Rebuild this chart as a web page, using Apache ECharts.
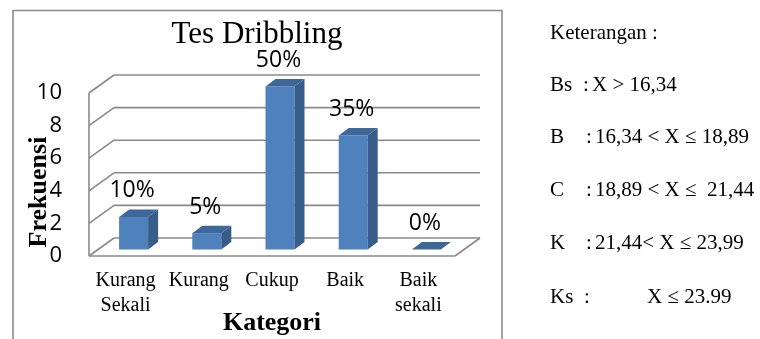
<!DOCTYPE html>
<html><head><meta charset="utf-8">
<script src="https://cdn.jsdelivr.net/npm/echarts@6/dist/echarts.min.js"></script>
<style>html,body{margin:0;padding:0;background:#fff}#c{width:760px;height:339px}</style>
</head><body><div id="c"></div>
<script>
const categories = ["Kurang\nSekali", "Kurang", "Cukup", "Baik", "Baik\nsekali"];
const frekuensi = [2, 1, 10, 7, 0];
const persen = ["10%", "5%", "50%", "35%", "0%"];
const yTicks = [0, 2, 4, 6, 8, 10];
const chartTitle = "Tes Dribbling";
const yName = "Frekuensi";
const xName = "Kategori";
const legendTitle = "Keterangan :";
const legendKeys = ["Bs", "B", "C", "K", "Ks"];
const legendExprs = ["X > 16,34", "16,34 < X \u2264 18,89", "18,89 < X \u2264  21,44", "21,44< X \u2264 23,99", "X \u2264 23.99"];

const SERIF = '"Liberation Serif", "Times New Roman", serif';
const SANS = '"Open Sans", "Liberation Sans", sans-serif';
const DX = 25, DY = -18;          // wall depth
const FX = 8, FY = -6.5;          // bar front face offset
const BX = 10, BY = -7.5;         // bar depth
const HW = 14.5;                  // bar half width
const GRID_COLOR = '#8a8a8a';

const chart = echarts.init(document.getElementById('c'), null, {renderer: 'canvas'});

function ln(x1, y1, x2, y2) {
  return {type: 'line', shape: {x1, y1, x2, y2}, style: {stroke: GRID_COLOR, lineWidth: 1.6}};
}

const LEG_FONT = '21px ' + SERIF;
const graphics = [
  {type: 'polyline', shape: {points: [[13, 339], [13, 10.5], [502, 10.5], [502, 339]]},
   style: {stroke: '#8c8c8c', lineWidth: 1.6, fill: null}},
  {type: 'text', x: 257, y: 35, style: {text: chartTitle, font: '31px ' + SERIF, fill: '#000', align: 'center', verticalAlign: 'middle'}},
  {type: 'text', x: 39, y: 192, rotation: Math.PI / 2,
   style: {text: yName, font: 'bold 26px ' + SERIF, fill: '#000', align: 'center', verticalAlign: 'middle'}},
  {type: 'text', x: 272, y: 323, style: {text: xName, font: 'bold 26px ' + SERIF, fill: '#000', align: 'center', verticalAlign: 'middle'}},
  {type: 'text', x: 550, y: 33, style: {text: legendTitle, font: LEG_FONT, fill: '#000', align: 'left', verticalAlign: 'middle'}}
];
const rowY = [85, 137, 190, 243, 297];
const colonX = [583, 586, 586, 586, 584];
const exprX = [592, 595, 595, 595, 647];
legendKeys.forEach((k, i) => {
  graphics.push({type: 'text', x: 550, y: rowY[i], style: {text: k, font: LEG_FONT, fill: '#000', align: 'left', verticalAlign: 'middle'}});
  graphics.push({type: 'text', x: colonX[i], y: rowY[i], style: {text: ':', font: LEG_FONT, fill: '#000', align: 'left', verticalAlign: 'middle'}});
  graphics.push({type: 'text', x: exprX[i], y: rowY[i], style: {text: legendExprs[i], font: LEG_FONT, fill: '#000', align: 'left', verticalAlign: 'middle'}});
});

const option = {
  animation: false,
  backgroundColor: '#fff',
  grid: {left: 89, right: 305, top: 93, bottom: 83, containLabel: false, outerBoundsMode: 'none'},
  xAxis: {
    type: 'category', data: categories,
    axisLine: {show: false}, axisTick: {show: false}, splitLine: {show: false},
    axisLabel: {interval: 0, fontFamily: SERIF, fontSize: 20, lineHeight: 25, color: '#000', margin: 12}
  },
  yAxis: {
    type: 'value', min: yTicks[0], max: yTicks[yTicks.length - 1], interval: yTicks[1] - yTicks[0],
    axisLine: {show: false}, axisTick: {show: false}, splitLine: {show: false},
    axisLabel: {fontFamily: SANS, fontSize: 22, color: '#000', margin: 27, padding: [5, 0, 0, 0]}
  },
  graphic: graphics,
  series: [
    {
      type: 'custom', silent: true, z: 1,
      data: yTicks.map(v => [0, v]),
      renderItem(params, api) {
        const cs = params.coordSys;
        const v = api.value(1);
        const y = api.coord([0, v])[1];
        const L = cs.x, R = cs.x + cs.width;
        const children = [ln(L, y, L + DX, y + DY), ln(L + DX, y + DY, R + DX, y + DY)];
        if (v === yTicks[0]) {
          const yTop = api.coord([0, yTicks[yTicks.length - 1]])[1];
          children.push(ln(L, y, R, y));
          children.push(ln(R, y, R + DX, y + DY));
          children.push(ln(L, y, L, yTop));
        }
        return {type: 'group', children};
      }
    },
    {
      type: 'custom', silent: true, z: 2,
      data: frekuensi.map((v, i) => [i, v]),
      renderItem(params, api) {
        const i = api.value(0), v = api.value(1);
        const top = api.coord([i, v]);
        const base = api.coord([i, 0]);
        const cx = top[0] + FX;
        const x1 = cx - HW, x2 = cx + HW;
        const yb = base[1] + FY, yt = top[1] + FY;
        const children = [];
        if (yb - yt > 0.5) {
          children.push({type: 'polygon', shape: {points: [[x1, yb], [x2, yb], [x2, yt], [x1, yt]]}, style: {fill: '#4F81BD'}});
          children.push({type: 'polygon', shape: {points: [[x2, yb], [x2 + BX, yb + BY], [x2 + BX, yt + BY], [x2, yt]]}, style: {fill: '#385D8A'}});
        }
        children.push({type: 'polygon', shape: {points: [[x1, yt], [x2, yt], [x2 + BX, yt + BY], [x1 + BX, yt + BY]]}, style: {fill: '#3E679A'}});
        children.push({type: 'text', x: cx - 1.5, y: yt + BY - 18.5,
          style: {text: persen[params.dataIndex], font: '23px ' + SANS, fill: '#000', align: 'center', verticalAlign: 'middle'}});
        return {type: 'group', children};
      }
    }
  ]
};
chart.setOption(option);
</script>
</body></html>
